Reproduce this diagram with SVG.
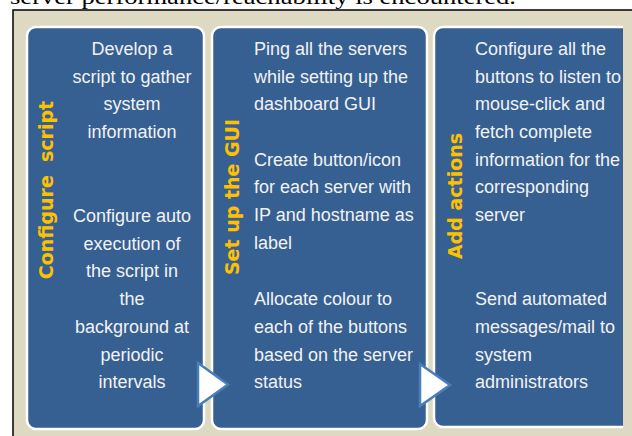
<svg xmlns="http://www.w3.org/2000/svg" width="632" height="436" viewBox="0 0 632 436">
  <style>
    .panel { fill: #366092; stroke: #FFFFFF; stroke-width: 2.5; }
    .body { font-family: "Liberation Sans", Arial, sans-serif; font-size: 18px; fill: #F2F2F2; }
    .center { text-anchor: middle; }
    .vlabel { font-family: "DejaVu Sans", Verdana, sans-serif; font-weight: bold; font-size: 19px; fill: #FFC000; text-anchor: middle; }
    .arrow { fill: #FFFFFF; stroke: #4A7EBB; stroke-width: 2.5; stroke-linejoin: miter; }
  </style>
  <defs>
    <clipPath id="clip3">
      <rect x="0" y="0" width="623" height="436"/>
    </clipPath>
  </defs>
  <rect x="0" y="0" width="632" height="436" fill="#FFFFFF"/>
  <text x="10" y="4" font-family="Liberation Serif, 'Times New Roman', serif" font-size="22" fill="#000000" textLength="506" lengthAdjust="spacingAndGlyphs">server performance/reachability is encountered.</text>
  <rect x="13" y="10" width="630" height="440" fill="#DDD9C3" stroke="#000000" stroke-width="1.5"/>

  <g id="node-configure-script">
    <rect class="panel" x="27" y="27" width="177" height="402" rx="9"/>
    <text class="vlabel" transform="translate(53,190) rotate(-90)" xml:space="preserve">Configure  script</text>
    <text class="body center" x="132" y="55">Develop a</text>
    <text class="body center" x="132" y="83">script to gather</text>
    <text class="body center" x="132" y="110">system</text>
    <text class="body center" x="132" y="138">information</text>
    <text class="body center" x="132" y="222">Configure auto</text>
    <text class="body center" x="132" y="250">execution of</text>
    <text class="body center" x="132" y="277">the script in</text>
    <text class="body center" x="132" y="305">the</text>
    <text class="body center" x="132" y="333">background at</text>
    <text class="body center" x="132" y="361">periodic</text>
    <text class="body center" x="132" y="388">intervals</text>
  </g>

  <g id="node-set-up-gui">
    <rect class="panel" x="212" y="27" width="215" height="402" rx="9"/>
    <text class="vlabel" transform="translate(239,197) rotate(-90)">Set up the GUI</text>
    <text class="body" x="254" y="55">Ping all the servers</text>
    <text class="body" x="254" y="83">while setting up the</text>
    <text class="body" x="254" y="110">dashboard GUI</text>
    <text class="body" x="254" y="166">Create button/icon</text>
    <text class="body" x="254" y="193">for each server with</text>
    <text class="body" x="254" y="221">IP and hostname as</text>
    <text class="body" x="254" y="249">label</text>
    <text class="body" x="254" y="305">Allocate colour to</text>
    <text class="body" x="254" y="333">each of the buttons</text>
    <text class="body" x="254" y="361">based on the server</text>
    <text class="body" x="254" y="388">status</text>
  </g>

  <g id="node-add-actions">
    <rect class="panel" x="434" y="27" width="215" height="400" rx="9" clip-path="url(#clip3)"/>
    <text class="vlabel" transform="translate(462,196) rotate(-90)">Add actions</text>
    <text class="body" x="475" y="55">Configure all the</text>
    <text class="body" x="475" y="83">buttons to listen to</text>
    <text class="body" x="475" y="110">mouse-click and</text>
    <text class="body" x="475" y="138">fetch complete</text>
    <text class="body" x="475" y="166">information for the</text>
    <text class="body" x="475" y="193">corresponding</text>
    <text class="body" x="475" y="221">server</text>
    <text class="body" x="475" y="305">Send automated</text>
    <text class="body" x="475" y="333">messages/mail to</text>
    <text class="body" x="475" y="361">system</text>
    <text class="body" x="475" y="388">administrators</text>
  </g>

  <g id="connectors">
    <polygon class="arrow" points="198,363 228,384.5 198,406"/>
    <polygon class="arrow" points="420,364 450,385 420,406"/>
  </g>
</svg>
